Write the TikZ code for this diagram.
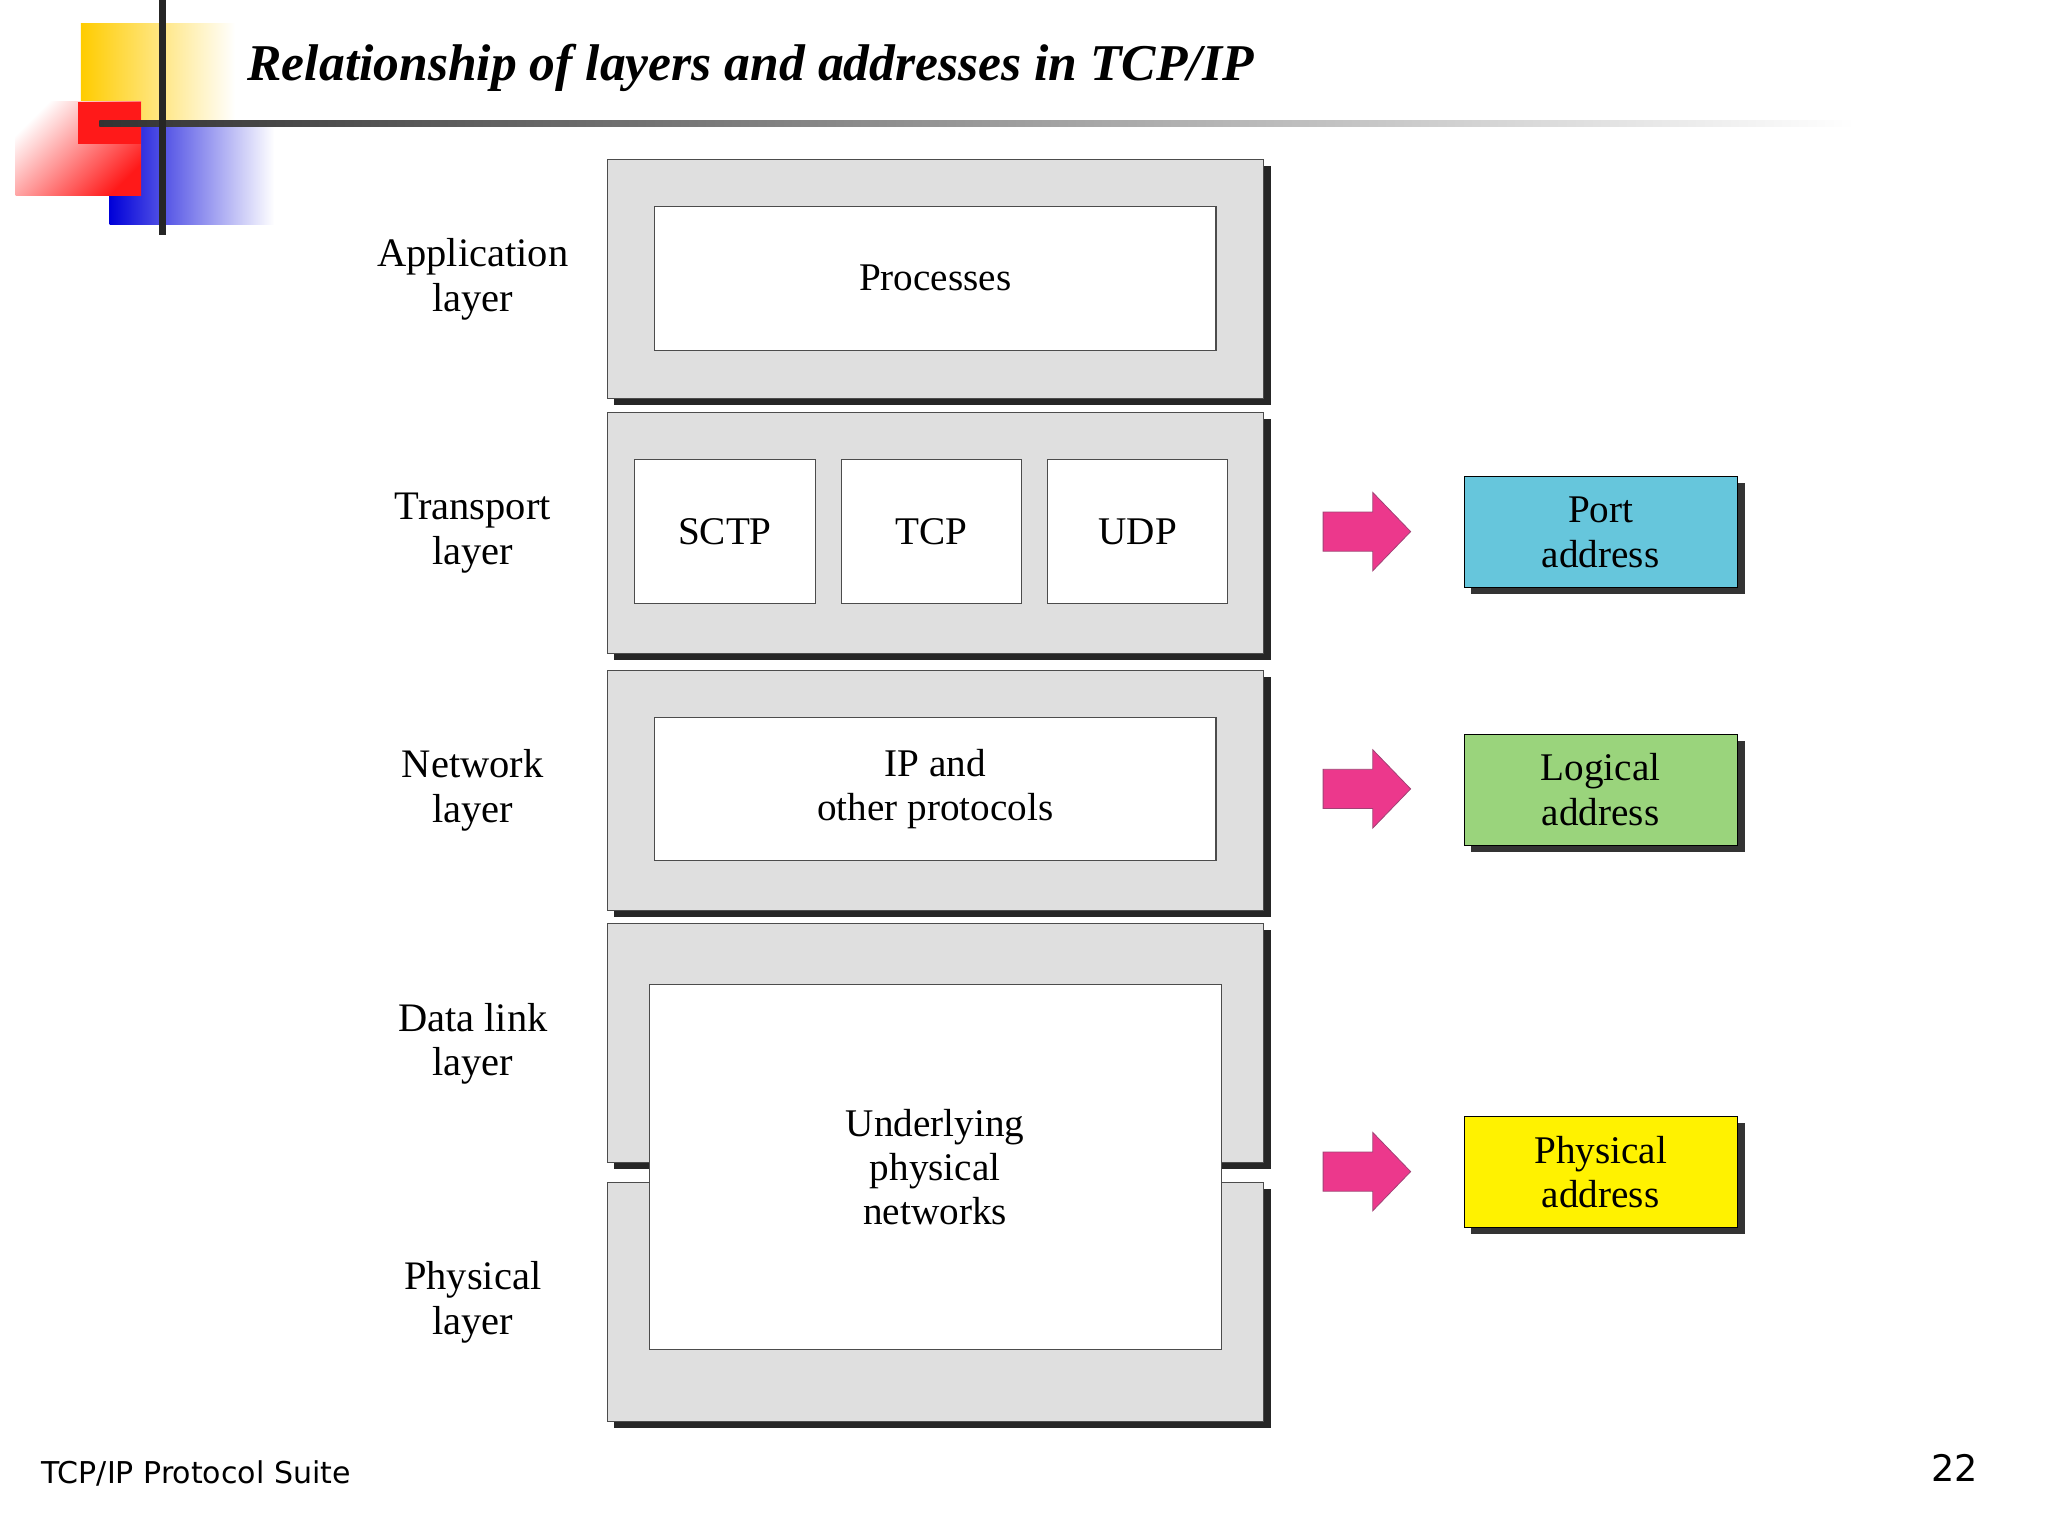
\documentclass[tikz,border=0pt]{standalone}
\usepackage{fontspec}
\setmainfont{Liberation Serif}
\newfontfamily\footfont{DejaVu Sans}
\begin{document}
\begin{tikzpicture}[x=1pt,y=-1pt,
  layer/.style={fill=gray!25,draw=black!70,line width=0.8pt},
  inner/.style={fill=white,draw=black!70,line width=0.8pt,font=\fontsize{30}{34}\selectfont,align=center},
  lab/.style={font=\fontsize{31}{34}\selectfont,align=center},
  addr/.style={draw=black,line width=0.8pt,font=\fontsize{30}{34}\selectfont,align=center},
  parrow/.style={fill={rgb,255:red,236;green,56;blue,140},draw=magenta!60!black,line width=0.6pt}]
\useasboundingbox (0,0) rectangle (1568,1176);
\fill[white] (0,0) rectangle (1568,1176);
% logo
\shade[left color={rgb,255:red,255;green,204;blue,0},right color=white] (62,18) rectangle (180,95);
\shade[left color=blue!85!black,right color=white] (84,95) rectangle (210,172);
\shade[left color=white,right color=red!90,shading angle=45] (12,78) rectangle (108,150);
\fill[red!90] (60,78) rectangle (108,110);
\shade[left color=black!80,right color=white] (76,92) rectangle (1420,97);
\fill[black!85] (122,0) rectangle (127,180);
\node[anchor=base west,font=\fontsize{39.5}{44}\selectfont\bfseries\itshape] (title) at (186,62) {Relationship of layers and addresses in TCP/IP};
% layer boxes
\foreach \n/\a/\b in {app/122/305,tra/316/500,net/513/697,dl/707/890,ph/905/1088}{
  \fill[black!85] (470,\a+5) rectangle (973,\b+5);
  \draw[layer] (465,\a) rectangle (967,\b);
  \coordinate (\n) at (465,\a);
}
\node[inner,minimum width=430,minimum height=110] (proc) at (716,213) {Processes};
\node[inner,minimum width=138,minimum height=110] (sctp) at (555,407) {SCTP};
\node[inner,minimum width=138,minimum height=110] (tcp) at (713,407) {TCP};
\node[inner,minimum width=138,minimum height=110] (udp) at (871,407) {UDP};
\node[inner,minimum width=430,minimum height=110] (ip) at (716,604) {IP and\\other protocols};
\node[inner,minimum width=438,minimum height=279] (under) at (716,893.5) {Underlying\\physical\\networks};
% labels
\node[lab] (l1) at (362,214) {Application\\layer};
\node[lab] (l2) at (362,408) {Transport\\layer};
\node[lab] (l3) at (362,605) {Network\\layer};
\node[lab] (l4) at (362,799) {Data link\\layer};
\node[lab] (l5) at (362,997) {Physical\\layer};
% arrows
\foreach \y in {407,604,897}{
  \draw[parrow] (1013,\y-15) -- (1051,\y-15) -- (1051,\y-30) -- (1080,\y) -- (1051,\y+30) -- (1051,\y+15) -- (1013,\y+15) -- cycle;
}
% address boxes
\foreach \y in {365,562,855}{
  \fill[black!80] (1126,\y+5) rectangle (1336,\y+90);
}
\node[addr,fill={rgb,255:red,102;green,198;blue,220},minimum width=209,minimum height=85] (port) at (1225.5,407.5) {Port\\address};
\node[addr,fill={rgb,255:red,154;green,212;blue,124},minimum width=209,minimum height=85] (log) at (1225.5,604.5) {Logical\\address};
\node[addr,fill=yellow,minimum width=209,minimum height=85] (phy) at (1225.5,897.5) {Physical\\address};
% footer
\node[anchor=base west,font=\footfont\fontsize{23}{28}\selectfont] (foot) at (28,1136) {TCP/IP Protocol Suite};
\node[anchor=base east,font=\footfont\fontsize{28}{32}\selectfont] (num) at (1518,1134) {22};
\end{tikzpicture}
\end{document}
